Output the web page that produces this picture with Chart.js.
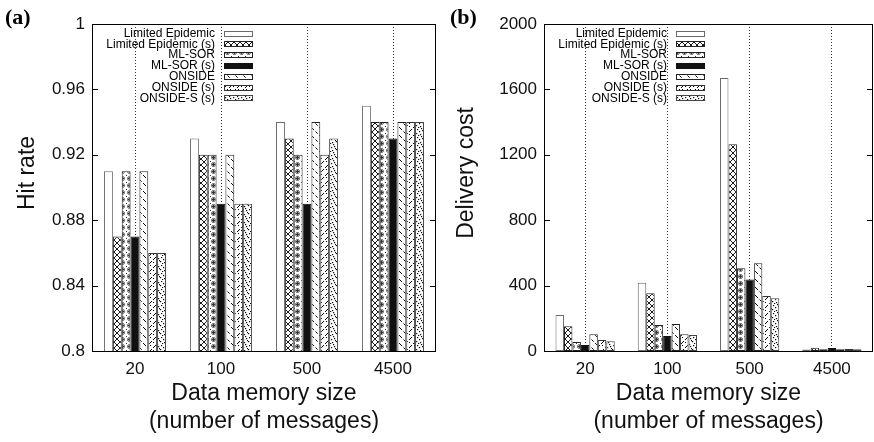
<!DOCTYPE html>
<html>
<head>
<meta charset="utf-8">
<script src="https://cdn.jsdelivr.net/npm/chart.js@4/dist/chart.umd.min.js"></script>
<style>
  html, body { margin: 0; padding: 0; background: #fff; }
  #wrap { position: relative; width: 874px; height: 442px; overflow: hidden; }
  .panel { position: absolute; top: 0; height: 442px; }
</style>
</head>
<body>
<div id="wrap">
  <div class="panel" style="left:0;width:437px"><canvas id="hit" width="437" height="442"></canvas></div>
  <div class="panel" style="left:436px;width:438px"><canvas id="cost" width="438" height="442"></canvas></div>
</div>
<script>
// Memory sizes on the x axis
const categories = ['20', '100', '500', '4500'];
const seriesNames = ['Limited Epidemic', 'Limited Epidemic (s)', 'ML-SOR', 'ML-SOR (s)',
                     'ONSIDE', 'ONSIDE (s)', 'ONSIDE-S (s)'];

// Panel (a): hit rate per scheme
const hitLimitedEpidemic  = [0.91, 0.93, 0.94, 0.95];
const hitLimitedEpidemicS = [0.87, 0.92, 0.93, 0.94];
const hitMlSor            = [0.91, 0.92, 0.92, 0.94];
const hitMlSorS           = [0.87, 0.89, 0.89, 0.93];
const hitOnside           = [0.91, 0.92, 0.94, 0.94];
const hitOnsideS          = [0.86, 0.89, 0.92, 0.94];
const hitOnsideSS         = [0.86, 0.89, 0.93, 0.94];

// Panel (b): delivery cost per scheme
const costLimitedEpidemic  = [220, 418, 1670, 9];
const costLimitedEpidemicS = [151, 353, 1265, 20];
const costMlSor            = [55, 159, 506, 10];
const costMlSorS           = [37, 92, 438, 18];
const costOnside           = [102, 165, 536, 10];
const costOnsideS          = [67, 102, 336, 12];
const costOnsideSS         = [60, 98, 322, 10];

// Tick labels
const hitTicks  = [0.8, 0.84, 0.88, 0.92, 0.96, 1];
const costTicks = [0, 400, 800, 1200, 1600, 2000];

const SANS = '"Liberation Sans", Arial, sans-serif';

// ---- fill patterns (gnuplot-like hatches) ----
function makePattern(size, draw) {
  const c = document.createElement('canvas');
  c.width = size; c.height = size;
  const g = c.getContext('2d');
  g.fillStyle = '#fff';
  g.fillRect(0, 0, size, size);
  g.strokeStyle = '#000';
  g.fillStyle = '#000';
  g.lineWidth = 1;
  draw(g, size);
  return g.createPattern(c, 'repeat');
}
const fills = [
  '#ffffff',
  makePattern(6, (g, s) => {           // cross hatch
    g.lineWidth = 0.9;
    g.beginPath();
    g.moveTo(0, 0); g.lineTo(s, s);
    g.moveTo(s, 0); g.lineTo(0, s);
    g.stroke();
  }),
  makePattern(7, (g, s) => {           // small ringed grid
    g.strokeStyle = '#333';
    g.lineWidth = 0.8;
    g.beginPath(); g.arc(3.5, 3.5, 2, 0, Math.PI * 2); g.stroke();
    g.fillStyle = '#333';
    g.fillRect(3, 2, 1, 3); g.fillRect(2, 3, 3, 1);
    g.fillRect(0, 0, 1, 1);
  }),
  '#111111',
  makePattern(8, (g, s) => {           // dashed back-slash hatch
    g.setLineDash([3, 2]);
    g.beginPath();
    g.moveTo(0, 0); g.lineTo(s, s);
    g.moveTo(-4, 4); g.lineTo(4, 12);
    g.moveTo(4, -4); g.lineTo(12, 4);
    g.stroke();
  }),
  makePattern(8, (g, s) => {           // sparse slash dashes
    g.beginPath();
    g.moveTo(1, 4); g.lineTo(4, 1);
    g.moveTo(5, 8); g.lineTo(8, 5);
    g.stroke();
    g.fillRect(6, 1, 1, 1); g.fillRect(1, 6, 1, 1);
  }),
  makePattern(8, (g, s) => {           // stipple
    [[1,1],[5,0],[3,3],[7,4],[0,5],[4,6],[6,2],[2,7]].forEach(([x, y]) => g.fillRect(x, y, 1.2, 1.2));
  })
];
const borders = ['#6a6a6a', '#222', '#222', '#111', '#222', '#333', '#444'];

function buildDatasets(seriesValues) {
  return seriesValues.map((vals, i) => ({
    label: seriesNames[i],
    data: vals,
    backgroundColor: fills[i],
    borderColor: borders[i],
    borderWidth: 1,
    borderSkipped: false,
    categoryPercentage: 0.72,
    barPercentage: 1.0
  }));
}

// Frame, inward ticks, legend, y title and panel tag
const decorPlugin = {
  id: 'decor',
  afterDatasetsDraw(chart, args, opts) {
    const { ctx, chartArea: a } = chart;
    const y = chart.scales.y;
    ctx.save();
    ctx.strokeStyle = '#000';
    ctx.lineWidth = 1;
    ctx.setLineDash([]);
    ctx.strokeRect(Math.round(a.left) + 0.5, Math.round(a.top) + 0.5,
                   Math.round(a.right - a.left) - 1, Math.round(a.bottom - a.top));
    ctx.beginPath();
    y.ticks.forEach((t, idx) => {
      const py = Math.round(y.getPixelForTick(idx)) + 0.5;
      ctx.moveTo(a.left, py); ctx.lineTo(a.left + 6, py);
      ctx.moveTo(a.right - 6, py); ctx.lineTo(a.right, py);
    });
    ctx.stroke();

    // legend, text right aligned with swatch to its right
    ctx.font = '12px ' + SANS;
    ctx.textAlign = 'right';
    ctx.textBaseline = 'middle';
    chart.data.datasets.forEach((ds, i) => {
      const cy = a.top + 9.5 + i * 10.8;
      ctx.fillStyle = '#000';
      ctx.fillText(ds.label, a.left + 123, cy);
      const sx = Math.round(a.left + 132) + 0.5, sy = Math.round(cy - 3) + 0.5;
      ctx.fillStyle = ds.backgroundColor;
      ctx.fillRect(sx, sy, 28, 5);
      ctx.strokeStyle = ds.borderColor;
      ctx.strokeRect(sx, sy, 28, 5);
    });

    // y axis title
    ctx.save();
    ctx.translate(opts.yTitleX, 173);
    ctx.rotate(-Math.PI / 2);
    ctx.fillStyle = '#111';
    ctx.font = '23px ' + SANS;
    ctx.textAlign = 'center';
    ctx.textBaseline = 'middle';
    ctx.fillText(opts.yTitle, 0, 0);
    ctx.restore();

    // panel tag
    ctx.fillStyle = '#000';
    ctx.font = 'bold 22px "Liberation Serif", "Times New Roman", serif';
    ctx.textAlign = 'left';
    ctx.textBaseline = 'alphabetic';
    ctx.fillText(opts.tag, opts.tagX, 24);
    ctx.restore();
  }
};

function makeChart(id, seriesValues, ticks, yTitle, yTitleX, axisWidth, tag, tagX, fmt) {
  return new Chart(document.getElementById(id), {
    type: 'bar',
    data: { labels: categories, datasets: buildDatasets(seriesValues) },
    plugins: [decorPlugin],
    options: {
      responsive: false,
      animation: false,
      devicePixelRatio: 1,
      layout: { padding: { top: 24, right: 1, bottom: 0, left: 0 } },
      plugins: {
        legend: { display: false },
        tooltip: { enabled: false },
        decor: { tag: tag, tagX: tagX, yTitle: yTitle, yTitleX: yTitleX }
      },
      scales: {
        x: {
          grid: { offset: false, drawTicks: false, color: '#000', lineWidth: 0.8 },
          border: { display: false, dash: [1, 2] },
          ticks: { color: '#111', padding: 8, font: { size: 17, family: SANS } },
          title: {
            display: true,
            text: ['Data memory size', '(number of messages)'],
            color: '#111',
            font: { size: 23, family: SANS, lineHeight: 1.22 },
            padding: { top: 0, bottom: 6 }
          },
          afterFit(scale) { scale.height = 91; }
        },
        y: {
          min: ticks[0],
          max: ticks[ticks.length - 1],
          beginAtZero: false,
          afterBuildTicks(scale) { scale.ticks = ticks.map(v => ({ value: v })); },
          grid: { display: false, drawTicks: false },
          border: { display: false },
          ticks: {
            color: '#111', padding: 7,
            font: { size: 17, family: SANS },
            callback: fmt
          },
          afterFit(scale) { scale.width = axisWidth; }
        }
      }
    }
  });
}

makeChart('hit',
  [hitLimitedEpidemic, hitLimitedEpidemicS, hitMlSor, hitMlSorS, hitOnside, hitOnsideS, hitOnsideSS],
  hitTicks, 'Hit rate', 28, 92, '(a)', 5,
  v => String(Number(v.toFixed(2))));

makeChart('cost',
  [costLimitedEpidemic, costLimitedEpidemicS, costMlSor, costMlSorS, costOnside, costOnsideS, costOnsideSS],
  costTicks, 'Delivery cost', 31, 108, '(b)', 14,
  v => String(v));
</script>
</body>
</html>
